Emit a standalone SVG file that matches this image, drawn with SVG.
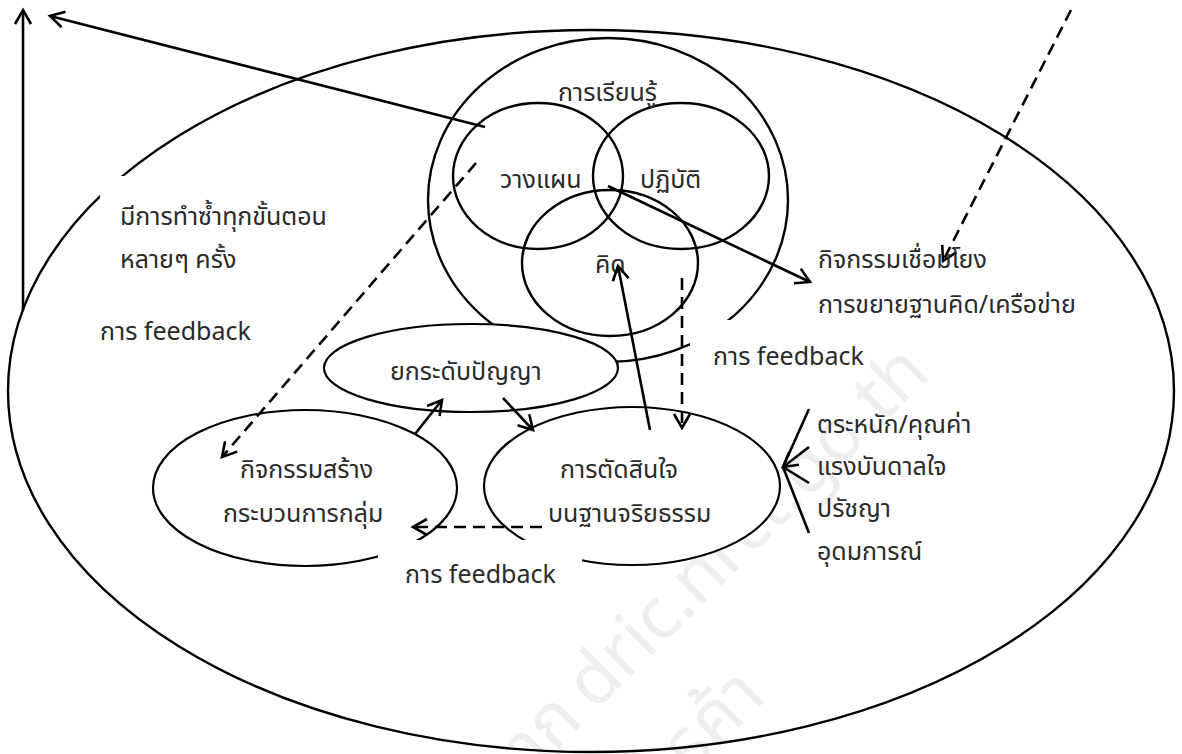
<svg xmlns="http://www.w3.org/2000/svg" width="1182" height="754" viewBox="0 0 1182 754">
<style>
.ln{fill:none;stroke:#000;stroke-width:2.4}
.sh{fill:#fff;stroke:#000;stroke-width:2.2}
.ar{fill:none;stroke:#000;stroke-width:2.6}
.da{fill:none;stroke:#000;stroke-width:2.6;stroke-dasharray:12 7}
.t{font-family:"Noto Sans Thai","Noto Sans","DejaVu Sans",sans-serif;font-size:25px;fill:#2a2a2a}
.wm{font-family:"Noto Sans Thai","Noto Sans","DejaVu Sans",sans-serif;font-size:72px;fill:#eeeeee}
</style>
<defs>
<marker id="ah" markerUnits="userSpaceOnUse" markerWidth="30" markerHeight="30" refX="0" refY="0" viewBox="-15 -15 30 30" orient="auto">
<path d="M-14,-8 L0,0 L-14,8" fill="none" stroke="#000" stroke-width="2.6"/>
</marker>
</defs>
<rect width="1182" height="754" fill="#fff"/>
<g id="watermark">
<text class="wm" text-anchor="end" transform="translate(585,722) rotate(-45)">จาก</text>
<text class="wm" transform="translate(595,712) rotate(-45)">dric.nrct.go.th</text>
<text class="wm" text-anchor="end" transform="translate(768,698) rotate(-45)">การค้า</text>
</g>
<g id="outer">
<ellipse class="ln" cx="591" cy="391" rx="583" ry="361"/>
</g>
<g id="learning">
<ellipse class="ln" cx="608" cy="200" rx="180" ry="162" stroke-width="2.2"/>
<ellipse class="ln" cx="538" cy="176" rx="85" ry="73" stroke-width="2.2"/>
<ellipse class="ln" cx="681" cy="176" rx="88" ry="73" stroke-width="2.2"/>
<ellipse class="ln" cx="610" cy="263" rx="88" ry="73" stroke-width="2.2"/>
<text class="t" x="558" y="101">การเรียนรู้</text>
<text class="t" x="500" y="188">วางแผน</text>
<text class="t" x="640" y="188">ปฏิบัติ</text>
<text class="t" x="595" y="273">คิด</text>
</g>
<g id="labelboxes">
<rect x="100" y="176" width="250" height="120" fill="#fff"/>
<rect x="690" y="320" width="180" height="60" fill="#fff"/>
</g>
<g id="n-yok">
<ellipse class="sh" cx="471" cy="368" rx="147" ry="44"/>
<text class="t" x="390" y="380">ยกระดับปัญญา</text>
</g>
<g id="n-group">
<ellipse class="sh" cx="305" cy="488" rx="152" ry="78"/>
<text class="t" x="240" y="478">กิจกรรมสร้าง</text>
<text class="t" x="223" y="522">กระบวนการกลุ่ม</text>
</g>
<g id="n-decide">
<ellipse class="sh" cx="632" cy="486" rx="148" ry="79"/>
<text class="t" x="560" y="478">การตัดสินใจ</text>
<text class="t" x="548" y="522">บนฐานจริยธรรม</text>
</g>
<rect x="378" y="540" width="204" height="60" fill="#fff"/>
<g id="connectors">
<line class="ar" x1="23" y1="310" x2="23" y2="10" marker-end="url(#ah)"/>
<line class="ar" x1="485" y1="127" x2="50" y2="16" marker-end="url(#ah)"/>
<line class="ar" x1="608" y1="186" x2="810" y2="282" marker-end="url(#ah)"/>
<line class="da" x1="1071" y1="10" x2="943" y2="261" marker-end="url(#ah)"/>
<line class="da" x1="476" y1="163" x2="222" y2="457" marker-end="url(#ah)"/>
<line class="da" x1="682" y1="278" x2="682" y2="428" marker-end="url(#ah)"/>
<line class="ar" x1="650" y1="430" x2="618" y2="266" marker-end="url(#ah)"/>
<line class="ar" x1="415" y1="434" x2="442" y2="400" marker-end="url(#ah)"/>
<line class="ar" x1="503" y1="398" x2="533" y2="430" marker-end="url(#ah)"/>
<line class="da" x1="542" y1="527" x2="413" y2="527" marker-end="url(#ah)"/>
<line class="ar" x1="809" y1="409" x2="783" y2="467"/>
<line class="ar" x1="809" y1="447" x2="783" y2="467" marker-end="url(#ah)"/>
<line class="ar" x1="809" y1="483" x2="783" y2="467"/>
<line class="ar" x1="809" y1="533" x2="783" y2="467"/>
</g>
<g id="labels">
<text class="t" x="120" y="225">มีการทำซ้ำทุกขั้นตอน</text>
<text class="t" x="120" y="268">หลายๆ ครั้ง</text>
<text class="t" x="100" y="340">การ feedback</text>
<text class="t" x="818" y="268">กิจกรรมเชื่อมโยง</text>
<text class="t" x="818" y="313">การขยายฐานคิด/เครือข่าย</text>
<text class="t" x="713" y="365">การ feedback</text>
<text class="t" x="405" y="583">การ feedback</text>
<text class="t" x="817" y="433">ตระหนัก/คุณค่า</text>
<text class="t" x="817" y="475">แรงบันดาลใจ</text>
<text class="t" x="817" y="517">ปรัชญา</text>
<text class="t" x="817" y="560">อุดมการณ์</text>
</g>
</svg>
